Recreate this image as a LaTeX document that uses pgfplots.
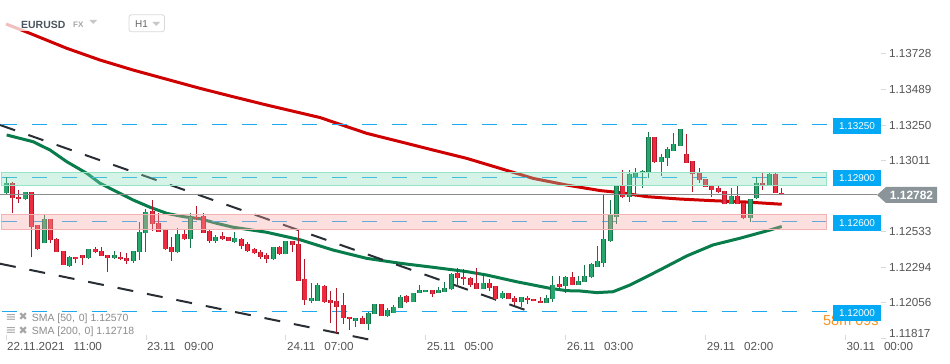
\documentclass[border=0pt]{standalone}
\usepackage{pgfplots}
\pgfplotsset{compat=1.18}
\usepackage{pgfplotstable}
\usepackage{fontspec}
\setmainfont{Liberation Sans}
\newfontfamily\dejavu{DejaVu Sans}
\definecolor{gbody}{RGB}{38,166,108}
\definecolor{gline}{RGB}{22,115,72}
\definecolor{rbody}{RGB}{238,42,62}
\definecolor{rline}{RGB}{178,22,40}
\definecolor{smared}{RGB}{206,0,0}
\definecolor{smagreen}{RGB}{8,124,74}
\definecolor{trendc}{RGB}{40,46,52}
\definecolor{lvl}{RGB}{30,170,240}
\definecolor{lbox}{RGB}{3,169,244}
\definecolor{gzone}{RGB}{135,226,189}
\definecolor{gzoneb}{RGB}{150,228,198}
\definecolor{rzone}{RGB}{249,169,169}
\definecolor{rzoneb}{RGB}{244,178,178}
\definecolor{tickc}{RGB}{85,85,85}
\definecolor{lastc}{RGB}{138,148,153}
\definecolor{legc}{RGB}{140,140,140}
\definecolor{headc}{RGB}{74,85,96}
\definecolor{orangec}{RGB}{247,147,30}

\pgfplotstableread{
i o h l c
0 1.12792 1.12899 1.12780 1.12859
3 1.12753 1.12798 1.12747 1.12798
6 1.12456 1.12646 1.12456 1.12617
10 1.12306 1.12371 1.12299 1.12362
13 1.12355 1.12416 1.12349 1.12416
17 1.12355 1.12404 1.12349 1.12376
20 1.12337 1.12404 1.12326 1.12404
21 1.12400 1.12601 1.12344 1.12534
22 1.12523 1.12684 1.12400 1.12668
27 1.12396 1.12557 1.12393 1.12517
29 1.12483 1.12662 1.12423 1.12635
33 1.12474 1.12512 1.12460 1.12496
36 1.12468 1.12532 1.12456 1.12490
42 1.12349 1.12429 1.12344 1.12429
44 1.12384 1.12470 1.12384 1.12470
48 1.12071 1.12188 1.12053 1.12089
49 1.12071 1.12188 1.12071 1.12176
55 1.11937 1.11953 1.11896 1.11953
57 1.11913 1.11997 1.11874 1.11986
58 1.11980 1.12047 1.11980 1.12047
60 1.11970 1.12024 1.11964 1.12009
61 1.11990 1.12042 1.11990 1.12031
62 1.12020 1.12109 1.12020 1.12098
64 1.12064 1.12125 1.12064 1.12125
65 1.12121 1.12176 1.12121 1.12143
66 1.12127 1.12143 1.12127 1.12143
68 1.12121 1.12161 1.12121 1.12143
69 1.12129 1.12194 1.12129 1.12154
70 1.12147 1.12255 1.12143 1.12248
75 1.12147 1.12255 1.12147 1.12188
78 1.12087 1.12138 1.12080 1.12121
81 1.12060 1.12094 1.12031 1.12094
85 1.12053 1.12109 1.12053 1.12087
86 1.12080 1.12239 1.12064 1.12176
88 1.12170 1.12239 1.12121 1.12232
90 1.12176 1.12237 1.12176 1.12205
91 1.12198 1.12311 1.12198 1.12237
92 1.12228 1.12322 1.12221 1.12315
93 1.12299 1.12438 1.12299 1.12337
94 1.12326 1.12780 1.12299 1.12483
95 1.12474 1.12747 1.12468 1.12644
96 1.12635 1.12845 1.12586 1.12845
98 1.12765 1.12948 1.12735 1.12921
99 1.12903 1.12959 1.12769 1.12933
100 1.12926 1.12948 1.12825 1.12941
101 1.12933 1.13205 1.12892 1.13168
103 1.13004 1.13055 1.12908 1.13033
104 1.13027 1.13104 1.12975 1.13087
105 1.13078 1.13194 1.13078 1.13123
106 1.13111 1.13221 1.13111 1.13221
114 1.12718 1.12825 1.12718 1.12776
117 1.12628 1.12755 1.12601 1.12755
118 1.12758 1.12899 1.12753 1.12859
120 1.12847 1.12937 1.12847 1.12921
}\greentab

\pgfplotstableread{
i o h l c
1 1.12859 1.12870 1.12657 1.12758
2 1.12765 1.12814 1.12725 1.12751
4 1.12798 1.12798 1.12362 1.12568
5 1.12579 1.12579 1.12411 1.12416
7 1.12617 1.12617 1.12456 1.12478
8 1.12485 1.12494 1.12396 1.12396
9 1.12404 1.12404 1.12311 1.12311
11 1.12362 1.12362 1.12322 1.12349
12 1.12376 1.12376 1.12311 1.12355
14 1.12416 1.12433 1.12389 1.12398
15 1.12404 1.12429 1.12371 1.12371
16 1.12376 1.12376 1.12262 1.12355
18 1.12366 1.12400 1.12344 1.12351
19 1.12358 1.12389 1.12315 1.12337
23 1.12675 1.12747 1.12541 1.12584
24 1.12594 1.12657 1.12534 1.12534
25 1.12545 1.12545 1.12411 1.12418
26 1.12429 1.12500 1.12339 1.12396
28 1.12517 1.12545 1.12478 1.12483
30 1.12633 1.12708 1.12613 1.12623
31 1.12639 1.12657 1.12527 1.12527
32 1.12539 1.12545 1.12460 1.12472
34 1.12505 1.12532 1.12478 1.12487
35 1.12496 1.12496 1.12474 1.12474
37 1.12485 1.12494 1.12420 1.12440
38 1.12451 1.12463 1.12400 1.12406
39 1.12416 1.12423 1.12384 1.12389
40 1.12398 1.12411 1.12349 1.12366
41 1.12378 1.12389 1.12322 1.12349
43 1.12429 1.12438 1.12378 1.12384
45 1.12470 1.12470 1.12400 1.12443
46 1.12451 1.12545 1.12205 1.12205
47 1.12217 1.12349 1.12042 1.12076
50 1.12170 1.12176 1.12058 1.12064
51 1.12074 1.12138 1.11919 1.12058
52 1.12069 1.12154 1.11852 1.12031
53 1.12042 1.12121 1.11915 1.11953
54 1.11964 1.11964 1.11874 1.11946
56 1.11955 1.11970 1.11915 1.11915
59 1.12047 1.12047 1.11970 1.11970
63 1.12102 1.12109 1.12053 1.12064
67 1.12143 1.12143 1.12098 1.12114
71 1.12255 1.12288 1.12165 1.12221
72 1.12228 1.12284 1.12176 1.12215
73 1.12221 1.12232 1.12165 1.12176
74 1.12188 1.12288 1.12147 1.12147
76 1.12188 1.12215 1.12138 1.12158
77 1.12172 1.12172 1.12071 1.12080
79 1.12121 1.12121 1.12080 1.12080
80 1.12087 1.12102 1.12042 1.12064
82 1.12091 1.12102 1.12047 1.12076
83 1.12080 1.12080 1.12067 1.12067
84 1.12069 1.12098 1.12053 1.12053
87 1.12181 1.12239 1.12151 1.12165
89 1.12232 1.12266 1.12176 1.12176
97 1.12845 1.12948 1.12758 1.12765
102 1.13168 1.13168 1.12997 1.13004
107 1.13053 1.13190 1.12997 1.12997
108 1.13008 1.13008 1.12802 1.12919
109 1.12926 1.12959 1.12863 1.12881
110 1.12888 1.12888 1.12836 1.12836
111 1.12841 1.12841 1.12769 1.12814
112 1.12825 1.12841 1.12796 1.12802
113 1.12809 1.12809 1.12718 1.12718
115 1.12776 1.12841 1.12718 1.12718
116 1.12725 1.12725 1.12617 1.12628
119 1.12859 1.12926 1.12814 1.12841
121 1.12921 1.12935 1.12792 1.12792
122 1.12796 1.12825 1.12777 1.12782
}\redtab

\begin{document}
\begin{tikzpicture}
\useasboundingbox (0,0) rectangle (950bp,364bp);
\fill[white] (0,0) rectangle (950bp,364bp);
\begin{axis}[
  at={(0bp,24bp)}, anchor=south west,
  scale only axis, width=886bp, height=340bp,
  xmin=-0.9434, xmax=138.365, ymin=1.118070, ymax=1.140889,
  axis line style={draw=none},
  clip=false,
  scaled y ticks=false,
  /pgf/number format/assume math mode=true,
  xtick={0,22,44,66,88,110,132},
  xticklabels={22.11.2021\hspace{9bp}11:00, 23.11\hspace{9bp}09:00, 24.11\hspace{9bp}07:00, 25.11\hspace{9bp}05:00, 26.11\hspace{9bp}03:00, 29.11\hspace{9bp}02:00, 30.11\hspace{9bp}00:00},
  xtick pos=bottom, ytick pos=right,
  tick align=inside, major tick length=5bp,
  tick style={draw=black!15, line width=0.8bp},
  ytick={1.12056,1.12294,1.12533,1.13011,1.13250,1.13489,1.13728},
  yticklabels={1.12056,1.12294,1.12533,1.13011,1.13250,1.13489,1.13728},
  extra y ticks={1.11817},
  extra y tick labels={1.11817},
  extra y tick style={yticklabel style={yshift=5.5bp}},
  yticklabel style={anchor=west, xshift=3bp, inner sep=0pt, font=\fontsize{11.7}{13}\selectfont, text=tickc},
  xticklabel style={anchor=base west, yshift=-11bp, xshift=1bp, inner sep=0pt, font=\fontsize{11.7}{13}\selectfont, text=tickc},
]
% moving averages
\addplot[smared, line width=3bp, line join=round, mark=none] coordinates {
(0,1.13928) (3.77,1.13865) (9.54,1.13765) (14.78,1.13686) (19.97,1.13619) (25.27,1.13557) (30.5,1.13496) (35.69,1.13440) (40.99,1.13384) (49.37,1.13300) (56.71,1.13194) (61.95,1.13138) (67.14,1.13082) (72.44,1.13026) (77.67,1.12959) (82.86,1.12892) (88.16,1.12847) (93.4,1.12810) (96.54,1.12796) (100.74,1.12769) (105.97,1.12753) (111.16,1.12742) (116.46,1.12733) (121.97,1.12718)};
\addplot[smagreen, line width=3bp, line join=round, mark=none] coordinates {
(0.1,1.13183) (4.25,1.13138) (6.92,1.13082) (9.54,1.13004) (12.69,1.12926) (14.78,1.12859) (17.41,1.12802) (19.97,1.12747) (22.64,1.12698) (25.27,1.12657) (27.88,1.12635) (30.5,1.12621) (33.13,1.12590) (35.69,1.12564) (40.99,1.12530) (46.23,1.12480) (51.4,1.12411) (56.71,1.12355) (61.95,1.12322) (67.14,1.12295) (72.44,1.12266) (75.58,1.12243) (80.3,1.12198) (85.53,1.12154) (88.16,1.12138) (90.25,1.12136) (92.88,1.12125) (95.44,1.12131) (98.11,1.12176) (100.74,1.12232) (103.3,1.12288) (107.03,1.12371) (111.16,1.12445) (115.41,1.12490) (120.13,1.12545) (121.97,1.12569)};
% trend lines
\addplot[trendc, line width=2bp, dash pattern=on 16bp off 14bp, mark=none] coordinates {(-0.9434,1.13250) (82.08,1.12002)};
\addplot[trendc, line width=2bp, dash pattern=on 16bp off 14bp, mark=none] coordinates {(-0.9434,1.12319) (57.23,1.11809)};
% horizontal levels
\addplot[lvl, line width=1bp, dash pattern=on 15bp off 15bp, dash phase=-2bp, mark=none] coordinates {(-0.9434,1.13250) (129.1,1.13250)};
\addplot[lvl, line width=1bp, dash pattern=on 15bp off 15bp, dash phase=-2bp, mark=none] coordinates {(-0.9434,1.12900) (129.1,1.12900)};
\addplot[lvl, line width=1bp, dash pattern=on 15bp off 15bp, dash phase=-2bp, mark=none] coordinates {(-0.9434,1.12600) (129.1,1.12600)};
\addplot[lvl, line width=1bp, dash pattern=on 15bp off 15bp, dash phase=-2bp, mark=none] coordinates {(-0.9434,1.12000) (129.1,1.12000)};
% wicks
\addplot[draw=none, mark=none, error bars/.cd, y dir=plus, y explicit, error mark=none,
  error bar style={draw=gline, line width=1bp}]
  table[x=i, y=l, y error plus expr=\thisrow{h}-\thisrow{l}] {\greentab};
\addplot[draw=none, mark=none, error bars/.cd, y dir=plus, y explicit, error mark=none,
  error bar style={draw=rline, line width=1bp}]
  table[x=i, y=l, y error plus expr=\thisrow{h}-\thisrow{l}] {\redtab};
% bodies: outline then fill
\addplot[draw=none, mark=none, error bars/.cd, y dir=plus, y explicit, error mark=none,
  error bar style={draw=gline, line width=5bp}]
  table[x=i, y=o, y error plus expr={max(\thisrow{c}-\thisrow{o},0.00008)}] {\greentab};
\addplot[draw=none, mark=none, error bars/.cd, y dir=plus, y explicit, error mark=none,
  error bar style={draw=gbody, line width=3.2bp}]
  table[x=i, y=o, y error plus expr={max(\thisrow{c}-\thisrow{o},0.00008)}] {\greentab};
\addplot[draw=none, mark=none, error bars/.cd, y dir=plus, y explicit, error mark=none,
  error bar style={draw=rline, line width=5bp}]
  table[x=i, y=c, y error plus expr={max(\thisrow{o}-\thisrow{c},0.00008)}] {\redtab};
\addplot[draw=none, mark=none, error bars/.cd, y dir=plus, y explicit, error mark=none,
  error bar style={draw=rbody, line width=3.2bp}]
  table[x=i, y=c, y error plus expr={max(\thisrow{o}-\thisrow{c},0.00008)}] {\redtab};
% zones on top
\addplot[fill=gzone, fill opacity=0.35, draw=gzoneb, line width=1bp, mark=none] coordinates {(-0.63,1.12844) (128.93,1.12844) (128.93,1.12933) (-0.63,1.12933)} -- cycle;
\addplot[fill=rzone, fill opacity=0.35, draw=rzoneb, line width=1bp, mark=none] coordinates {(-0.63,1.12550) (128.93,1.12550) (128.93,1.12651) (-0.63,1.12651)} -- cycle;
% last price line
\addplot[draw=black!45, line width=1bp, mark=none] coordinates {(-0.9434,1.12782) (136.95,1.12782)};
\end{axis}

% header overlay
\fill[white, opacity=0.75] (0,333bp) rectangle (180bp,364bp);
\node[anchor=base west, inner sep=0pt, font=\bfseries\fontsize{10.5}{12}\selectfont, text=headc] at (21bp,335.7bp) {EURUSD};
\node[anchor=base west, inner sep=0pt, font=\bfseries\fontsize{8}{10}\selectfont, text=black!35] at (73bp,336.5bp) {FX};
\fill[black!22] (89.5bp,344bp) -- (97bp,344bp) -- (93.25bp,340bp) -- cycle;
\draw[black!15, rounded corners=2.5bp, line width=0.8bp] (129bp,349.3bp) rectangle (164.5bp,332.3bp);
\node[anchor=base west, inner sep=0pt, font=\fontsize{10}{12}\selectfont, text=black!60] at (135bp,336.3bp) {H1};
\fill[black!22] (152.5bp,342bp) -- (160bp,342bp) -- (156.25bp,338bp) -- cycle;

% legend
\node[anchor=base west, inner sep=0pt, font=\dejavu\fontsize{13}{14}\selectfont, text=black!35] at (5.5bp,42.5bp) {≡};
\node[anchor=base west, inner sep=0pt, font=\dejavu\fontsize{11}{14}\selectfont, text=black!35] at (18.5bp,43bp) {✖};
\node[anchor=base west, inner sep=0pt, font=\fontsize{10.5}{12}\selectfont, text=legc] at (31.7bp,42.5bp) {SMA [50,\hspace{4bp}0] 1.12570};
\node[anchor=base west, inner sep=0pt, font=\dejavu\fontsize{13}{14}\selectfont, text=black!35] at (5.5bp,29.5bp) {≡};
\node[anchor=base west, inner sep=0pt, font=\dejavu\fontsize{11}{14}\selectfont, text=black!35] at (18.5bp,30bp) {✖};
\node[anchor=base west, inner sep=0pt, font=\fontsize{10.5}{12}\selectfont, text=legc] at (31.7bp,29.5bp) {SMA [200,\hspace{4bp}0] 1.12718};

% right price labels
\node[anchor=base west, inner sep=0pt, font=\fontsize{14.5}{16}\selectfont, text=orangec] at (823bp,39bp) {58m 09s};
\foreach \yy/\tt in {237.8/1.13250, 185.8/1.12900, 141/1.12600, 51.3/1.12000}{
  \node[fill=lbox, text=white, inner sep=0pt, minimum width=48bp, minimum height=16bp, font=\fontsize{10}{12}\selectfont] at (857bp,\yy bp) {\tt};
}
\fill[lastc] (877bp,169bp) -- (886bp,177bp) -- (937bp,177bp) -- (937bp,161bp) -- (886bp,161bp) -- cycle;
\node[inner sep=0pt, text=white, font=\bfseries\fontsize{12}{14}\selectfont] at (911.5bp,169bp) {1.12782};
\end{tikzpicture}
\end{document}
